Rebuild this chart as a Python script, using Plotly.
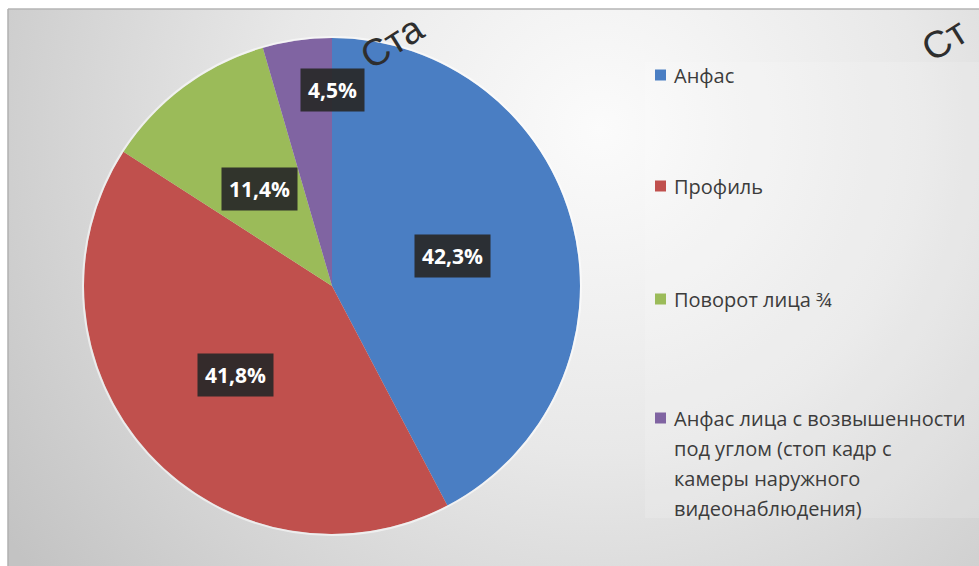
import base64
import math
import plotly.graph_objects as go

# ---- data -------------------------------------------------------------
categories = [
    "Анфас",
    "Профиль",
    "Поворот лица ¾",
    "Анфас лица с возвышенности<br>под углом (стоп кадр с<br>камеры наружного<br>видеонаблюдения)",
]
shares = [42.3, 41.8, 11.4, 4.5]
value_labels = ["42,3%", "41,8%", "11,4%", "4,5%"]
watermarks = ["Ста", "Ст"]

# ---- styling ------------------------------------------------------------
W, H = 979, 566
colors = ["#4A7EC3", "#C0504D", "#9BBB59", "#8064A2"]
label_radius = [0.50, 0.53, 0.49, 0.80]   # fraction of the pie radius
label_xshift = [0, 0, 0, 28]
cx_px, cy_px, r_px = 332, 286, 248         # pie centre / radius in pixels

# chart-area background: soft radial grey gradient
area_x0, area_y0 = 8, 9
aw, ah = W - area_x0, H - area_y0
svg = f"""<svg xmlns='http://www.w3.org/2000/svg' width='{aw}' height='{ah}'>
<defs><radialGradient id='g' gradientUnits='userSpaceOnUse' cx='592' cy='120' r='720'>
<stop offset='0' stop-color='#fbfbfb'/><stop offset='0.45' stop-color='#e8e8e8'/>
<stop offset='1' stop-color='#c3c3c3'/></radialGradient></defs>
<rect width='{aw}' height='{ah}' fill='url(#g)'/>
</svg>"""
bg_uri = "data:image/svg+xml;base64," + base64.b64encode(svg.encode()).decode()


def px(x):
    return x / W


def py(y):
    return 1 - y / H


fig = go.Figure()
fig.add_trace(go.Pie(
    labels=[c.split("<br>")[0] for c in categories],
    values=shares,
    sort=False,
    direction="clockwise",
    rotation=0,
    marker=dict(colors=colors, line=dict(width=0)),
    textinfo="none",
    hoverinfo="label+percent",
    showlegend=False,
    domain=dict(x=[px(cx_px - r_px), px(cx_px + r_px)],
                y=[py(cy_px + r_px), py(cy_px - r_px)]),
))

annotations = []
# value labels in dark boxes, placed at the middle angle of each slice
total = sum(shares)
acc = 0.0
for v, txt, f, xs in zip(shares, value_labels, label_radius, label_xshift):
    mid = acc + v / 2
    acc += v
    ang = math.pi / 2 - 2 * math.pi * mid / total
    lx = cx_px + f * r_px * math.cos(ang)
    ly = cy_px - f * r_px * math.sin(ang)
    annotations.append(dict(
        x=px(lx), y=py(ly), xref="paper", yref="paper",
        text=f"<b>{txt}</b>", showarrow=False, xshift=xs,
        font=dict(family="Open Sans", size=21, color="white"),
        bgcolor="rgba(40,40,40,0.92)", borderpad=7,
        xanchor="center", yanchor="middle",
    ))

# legend drawn at the right
legend_top = [75, 186, 299, 418]
line_step = 30
shapes = []
for name, col, y0 in zip(categories, colors, legend_top):
    shapes.append(dict(type="rect", xref="paper", yref="paper",
                       x0=px(655), x1=px(666), y0=py(y0 - 5.5), y1=py(y0 + 5.5),
                       fillcolor=col, line=dict(width=0)))
    for i, line in enumerate(name.split("<br>")):
        annotations.append(dict(
            x=px(672), y=py(y0 + i * line_step), xref="paper", yref="paper",
            text=line, showarrow=False, xanchor="left", yanchor="middle",
            font=dict(family="Open Sans", size=20, color="#3c3c3c"),
        ))

# watermark lettering along the top edge
for txt, (wx, wy) in zip(watermarks, [(392, 42), (944, 40)]):
    annotations.append(dict(
        x=px(wx), y=py(wy), xref="paper", yref="paper", text=txt,
        showarrow=False, textangle=-32, xanchor="center", yanchor="middle",
        font=dict(family="Liberation Sans", size=38, color="#2e2e2e"),
    ))

# frame lines of the chart area and a light rim round the pie
shapes += [
    dict(type="line", xref="paper", yref="paper", x0=px(area_x0), x1=1,
         y0=py(area_y0), y1=py(area_y0), line=dict(color="#b5b5b5", width=1.5)),
    dict(type="line", xref="paper", yref="paper", x0=px(area_x0), x1=px(area_x0),
         y0=py(area_y0), y1=0, line=dict(color="#b0b0b0", width=1.5)),
    dict(type="rect", xref="paper", yref="paper", x0=px(645), x1=1,
         y0=py(518), y1=py(62), fillcolor="rgba(255,255,255,0.14)",
         line=dict(width=0), layer="below"),
    dict(type="circle", xref="paper", yref="paper",
         x0=px(cx_px - r_px - 1), x1=px(cx_px + r_px + 1),
         y0=py(cy_px + r_px + 1), y1=py(cy_px - r_px - 1),
         line=dict(color="rgba(255,255,255,0.55)", width=2)),
]

fig.update_layout(
    width=W, height=H,
    margin=dict(l=0, r=0, t=0, b=0),
    paper_bgcolor="white",
    plot_bgcolor="rgba(0,0,0,0)",
    showlegend=False,
    annotations=annotations,
    shapes=shapes,
    images=[dict(source=bg_uri, xref="paper", yref="paper",
                 x=px(area_x0), y=py(area_y0), sizex=aw / W, sizey=ah / H,
                 xanchor="left", yanchor="top", sizing="stretch", layer="below")],
)

fig.write_html("out.html")
